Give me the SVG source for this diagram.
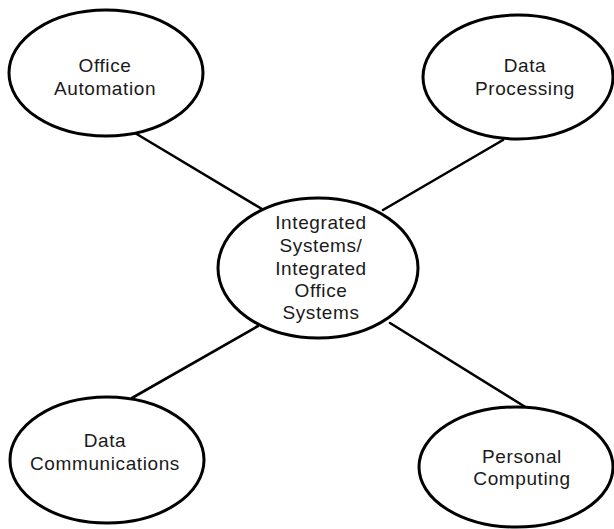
<svg xmlns="http://www.w3.org/2000/svg" width="614" height="529" viewBox="0 0 614 529">
<style>
.node ellipse{fill:#fff;stroke:#000;stroke-width:3}
.node text{font-family:"Liberation Sans",Arial,sans-serif;font-size:19px;letter-spacing:0.6px;fill:#1a1a1a;text-anchor:middle}
#connectors line{stroke:#000;stroke-width:2.6;stroke-linecap:round}
</style>
<rect width="614" height="529" fill="#fff"/>
<g id="connectors">
<line x1="135" y1="133" x2="262" y2="209"/>
<line x1="503" y1="140" x2="383" y2="210"/>
<line x1="132" y1="398" x2="258" y2="326"/>
<line x1="390" y1="323" x2="527" y2="408"/>
</g>
<g id="office-automation" class="node">
<ellipse cx="106" cy="73" rx="97" ry="63"/>
<text x="105" y="72">Office</text>
<text x="105" y="95">Automation</text>
</g>
<g id="data-processing" class="node">
<ellipse cx="518" cy="77" rx="95" ry="62"/>
<text x="525" y="72">Data</text>
<text x="525" y="95">Processing</text>
</g>
<g id="integrated-systems" class="node">
<ellipse cx="318" cy="268" rx="100" ry="70"/>
<text x="321" y="229">Integrated</text>
<text x="321" y="252">Systems/</text>
<text x="321" y="275">Integrated</text>
<text x="321" y="297">Office</text>
<text x="321" y="319">Systems</text>
</g>
<g id="data-communications" class="node">
<ellipse cx="107" cy="460" rx="97" ry="63"/>
<text x="105" y="447">Data</text>
<text x="105" y="470">Communications</text>
</g>
<g id="personal-computing" class="node">
<ellipse cx="516" cy="467" rx="97" ry="60"/>
<text x="522" y="463">Personal</text>
<text x="522" y="485">Computing</text>
</g>
</svg>
